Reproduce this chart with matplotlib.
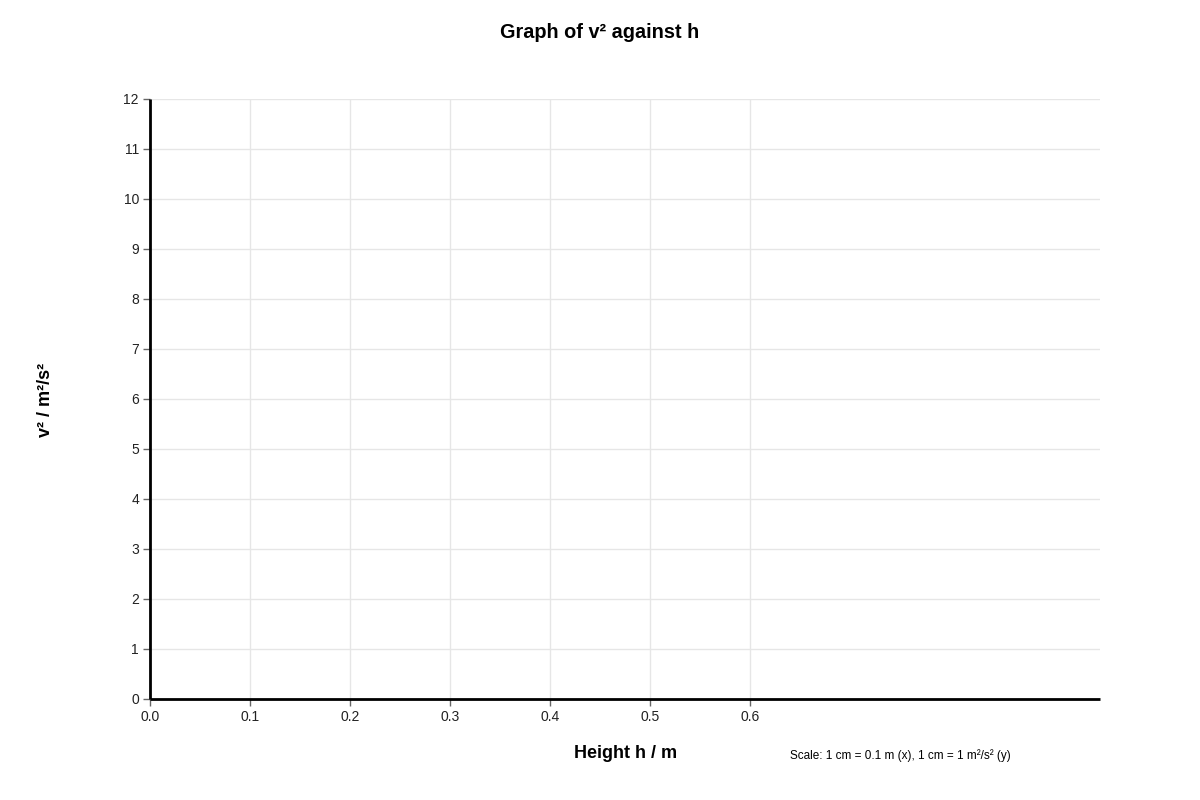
import numpy as np
import matplotlib.pyplot as plt

plt.rcParams['font.family'] = ['Liberation Sans', 'DejaVu Sans']

title = 'Graph of v² against h'
x_label = 'Height h / m'
y_label = 'v² / m²/s²'
scale_note = 'Scale: 1 cm = 0.1 m (x), 1 cm = 1 m²/s² (y)'

x_ticks = [0.0, 0.1, 0.2, 0.3, 0.4, 0.5, 0.6]
x_tick_labels = ['0.0', '0.1', '0.2', '0.3', '0.4', '0.5', '0.6']
y_ticks = list(range(0, 13))
x_max = 0.95
y_max = 12

fig = plt.figure(figsize=(12, 8), dpi=100)
ax = fig.add_axes([0.125, 0.12625, 0.7917, 0.75])

ax.set_xlim(0, x_max)
ax.set_ylim(0, y_max)
ax.set_xticks(x_ticks)
ax.set_xticklabels(x_tick_labels)
ax.set_yticks(y_ticks)

ax.grid(True, color='#e6e6e6', linewidth=1)
ax.set_axisbelow(True)

for side in ['top', 'right']:
    ax.spines[side].set_visible(False)
for side in ['left', 'bottom']:
    ax.spines[side].set_linewidth(2)
    ax.spines[side].set_color('black')
    ax.spines[side].set_capstyle('butt')

ax.tick_params(axis='both', length=5, width=1, color='#666666',
               labelsize=10, labelcolor='#222222', pad=3)

fig.text(0.5, 0.959, title, ha='center', va='center', fontsize=14.3, fontweight='bold')
fig.text(0.038, 0.5, y_label, ha='center', va='center', rotation=90,
         fontsize=13, fontweight='bold')
fig.text(0.521, 0.058, x_label, ha='center', va='center', fontsize=13, fontweight='bold')
fig.text(0.75, 0.056, scale_note, ha='center', va='center', fontsize=8.5)

fig.savefig('out.png', dpi=100)
